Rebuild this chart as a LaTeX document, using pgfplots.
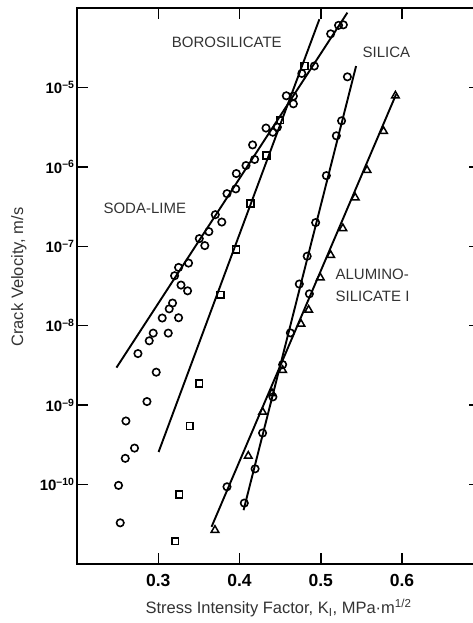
\documentclass[border=0pt]{standalone}
\usepackage{pgfplots}
\pgfplotsset{compat=1.18}
\usepackage{fontspec}
\setmainfont{Liberation Sans}

\begin{document}
\begin{tikzpicture}
\begin{axis}[
  scale only axis,
  width=403pt, height=556pt,
  xmin=0.2, xmax=0.696,
  ymode=log, ymin=1e-11, ymax=1e-4,
  axis line style={line width=2.8pt},
  tick align=inside,
  major tick length=11pt,
  tick style={line width=1.5pt, black},
  xtick={0.3,0.4,0.5,0.6},
  xticklabels={\textbf{0.3},\textbf{0.4},\textbf{0.5},\textbf{0.6}},
  ytick={1e-10,1e-9,1e-8,1e-7,1e-6,1e-5},
  yticklabels={
    \textbf{10}\textsuperscript{\textbf{–10}},
    \textbf{10}\textsuperscript{\textbf{–9}},
    \textbf{10}\textsuperscript{\textbf{–8}},
    \textbf{10}\textsuperscript{\textbf{–7}},
    \textbf{10}\textsuperscript{\textbf{–6}},
    \textbf{10}\textsuperscript{\textbf{–5}}},
  yminorticks=false,
  xticklabel style={font=\fontsize{17.5}{17.5}\selectfont, yshift=-7pt},
  yticklabel style={font=\fontsize{15}{15}\selectfont, xshift=1pt},
  xlabel={Stress Intensity Factor, K\textsubscript{I}, MPa·m\textsuperscript{1/2}},
  ylabel={Crack Velocity, m/s},
  xlabel style={font=\fontsize{16.5}{18}\selectfont, text=black!80,
    at={(axis description cs:0.5,-0.0791)}, anchor=center},
  ylabel style={font=\fontsize{16.5}{18}\selectfont, text=black!80,
    at={(axis description cs:-0.144,0.516)}, anchor=center},
  clip=false,
]

% fitted lines
\addplot[black, line width=1.9pt] coordinates {(0.2486,2.97e-9) (0.5328,8.75e-5)};  % soda-lime
\addplot[black, line width=1.9pt] coordinates {(0.3004,2.57e-10) (0.4983,7.21e-5)}; % borosilicate
\addplot[black, line width=1.9pt] coordinates {(0.4050,4.76e-11) (0.5435,1.86e-5)};  % silica
\addplot[black, line width=1.9pt] coordinates {(0.3656,2.94e-11) (0.5927,8.17e-6)};  % aluminosilicate I

% soda-lime
\addplot[only marks, mark=o, mark size=3.7pt,
  mark options={line width=1.6pt, draw=black, fill=white}] coordinates {
  (0.2750,4.46e-9) (0.2889,6.46e-9) (0.2938,8.07e-9) (0.3123,8.07e-9)
  (0.3049,1.25e-8) (0.3250,1.26e-8) (0.3135,1.63e-8) (0.3176,1.93e-8)
  (0.3280,3.25e-8) (0.3361,2.75e-8) (0.3201,4.26e-8) (0.3250,5.42e-8)
  (0.3373,6.15e-8) (0.3505,1.25e-7) (0.3573,1.02e-7) (0.3623,1.53e-7)
  (0.3702,2.50e-7) (0.3782,2.02e-7) (0.3846,4.60e-7) (0.3954,5.28e-7)
  (0.3961,8.24e-7) (0.4080,1.04e-6) (0.4186,1.24e-6) (0.4161,1.89e-6)
  (0.4326,3.08e-6) (0.4410,2.73e-6) (0.4466,3.16e-6) (0.4576,7.85e-6)
  (0.4663,7.76e-6) (0.4663,6.22e-6) (0.4767,1.50e-5) (0.4921,1.86e-5)
  (0.5122,4.73e-5) (0.5219,6.05e-5) (0.5278,6.14e-5)
  (0.2975,2.60e-9) (0.2861,1.11e-9) (0.2602,6.32e-10) (0.2708,2.88e-10)
  (0.2594,2.14e-10) (0.2511,9.77e-11) (0.2532,3.30e-11)
};

% borosilicate
\addplot[only marks, mark=square, mark size=3.4pt,
  mark options={line width=1.6pt, draw=black, fill=white}] coordinates {
  (0.3209,1.94e-11) (0.3259,7.48e-11) (0.3388,5.47e-10) (0.3505,1.87e-9)
  (0.3767,2.45e-8) (0.3957,9.14e-8) (0.4137,3.47e-7) (0.4330,1.39e-6)
  (0.4502,3.87e-6) (0.4798,1.86e-5)
};

% silica
\addplot[only marks, mark=o, mark size=3.7pt,
  mark options={line width=1.6pt, draw=black, fill=white}] coordinates {
  (0.4059,5.85e-11) (0.4192,1.58e-10) (0.4284,4.46e-10) (0.4411,1.27e-9)
  (0.4531,3.24e-9) (0.4626,8.13e-9) (0.4736,3.35e-8) (0.4833,7.50e-8)
  (0.4937,1.99e-7) (0.5069,7.76e-7) (0.5192,2.46e-6) (0.5256,3.80e-6)
  (0.5328,1.36e-5)
  (0.4860,2.52e-8) (0.3846,9.38e-11)
};

% aluminosilicate I
\addplot[only marks, mark=triangle, mark size=4.4pt,
  mark options={line width=1.5pt, draw=black, fill=white}] coordinates {
  (0.3698,2.67e-11) (0.4108,2.29e-10) (0.4284,8.20e-10) (0.4400,1.41e-9)
  (0.4531,2.75e-9) (0.4757,1.05e-8) (0.4851,1.58e-8) (0.4995,4.02e-8)
  (0.5122,7.73e-8) (0.5272,1.68e-7) (0.5424,4.10e-7) (0.5570,9.06e-7)
  (0.5773,2.81e-6) (0.5919,7.85e-6)
};

\begin{scope}[every node/.style={font=\fontsize{15}{21.7}\selectfont, text=black!80}]
\node at (axis cs:0.3844,3.69e-5) {BOROSILICATE};
\node at (axis cs:0.5808,2.74e-5) {SILICA};
\node at (axis cs:0.2834,3.01e-7) {SODA-LIME};
\node[anchor=west, align=left, inner sep=0pt] at (axis cs:0.5180,3.2e-8) {ALUMINO-\\SILICATE I};
\end{scope}
\end{axis}
\pgfresetboundingbox
\path[use as bounding box] ([shift={(-77pt,-59pt)}]current axis.south west)
  rectangle ([shift={(396pt,564pt)}]current axis.south west);
\end{tikzpicture}
\end{document}
